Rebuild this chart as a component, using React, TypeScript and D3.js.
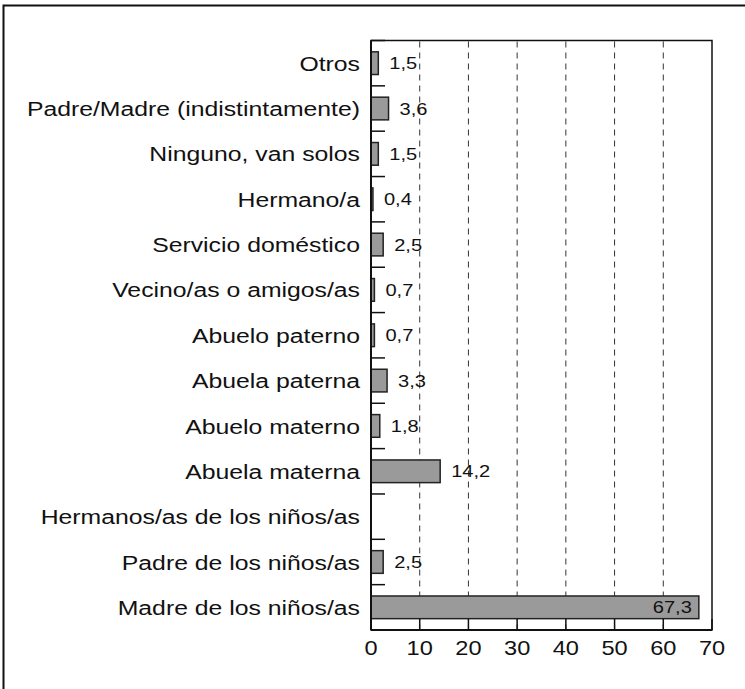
import * as d3 from "d3";

const categories = [
  "Otros",
  "Padre/Madre (indistintamente)",
  "Ninguno, van solos",
  "Hermano/a",
  "Servicio doméstico",
  "Vecino/as o amigos/as",
  "Abuelo paterno",
  "Abuela paterna",
  "Abuelo materno",
  "Abuela materna",
  "Hermanos/as de los niños/as",
  "Padre de los niños/as",
  "Madre de los niños/as",
];
const values: (number | null)[] = [1.5, 3.6, 1.5, 0.4, 2.5, 0.7, 0.7, 3.3, 1.8, 14.2, null, 2.5, 67.3];
const xTicks = [0, 10, 20, 30, 40, 50, 60, 70];

const width = 745,
  height = 689;
const plot = { left: 371, right: 712, top: 40.5, bottom: 630 };
const sx = 1.18; // labels in the source are slightly wide
const font = "'Liberation Sans', Arial, Helvetica, sans-serif";

const fmt = (v: number) => v.toFixed(1).replace(".", ",");

export default function App() {
  const x = d3.scaleLinear().domain([0, 70]).range([plot.left, plot.right]);
  const y = d3
    .scaleBand<string>()
    .domain(categories)
    .range([plot.top, plot.bottom])
    .paddingInner(0.5)
    .paddingOuter(0.25);
  const step = y.step();
  const bw = y.bandwidth();
  const boundaries = d3.range(categories.length + 1).map((i) => plot.top + i * step);

  return (
    <svg
      width={width}
      height={height}
      style={{ position: "absolute", left: 0, top: 0, background: "#fff" }}
      fontFamily={font}
    >
      {/* outer frame, open past the picture edges */}
      <rect x={3.5} y={5.5} width={800} height={800} fill="none" stroke="#111" strokeWidth={2} />

      {/* dashed grid */}
      {xTicks.slice(1, -1).map((t) => (
        <line
          key={"g" + t}
          x1={x(t)}
          x2={x(t)}
          y1={plot.top + 1}
          y2={plot.bottom}
          stroke="#333"
          strokeWidth={1}
          strokeDasharray="6,5"
        />
      ))}

      {/* bars */}
      {categories.map((c, i) => {
        const v = values[i];
        if (v == null) return null;
        return (
          <rect
            key={"b" + c}
            x={x(0)}
            y={y(c)!}
            width={x(v) - x(0)}
            height={bw}
            fill="#9a9a9a"
            stroke="#222"
            strokeWidth={1.5}
          />
        );
      })}

      {/* value labels */}
      {categories.map((c, i) => {
        const v = values[i];
        if (v == null) return null;
        const cy = y(c)! + bw / 2;
        const inside = x(v) > plot.right - 60;
        const tx = inside ? x(v) - 7 : x(v) + 11;
        return (
          <text
            key={"v" + c}
            transform={`translate(${tx},${cy}) scale(${sx},1)`}
            dy="0.36em"
            fontSize={17}
            textAnchor={inside ? "end" : "start"}
            fill="#111"
          >
            {fmt(v)}
          </text>
        );
      })}

      {/* category labels */}
      {categories.map((c) => (
        <text
          key={"c" + c}
          transform={`translate(${plot.left - 11},${y(c)! + bw / 2}) scale(${sx},1)`}
          dy="0.36em"
          fontSize={21}
          textAnchor="end"
          fill="#111"
        >
          {c}
        </text>
      ))}

      {/* y ticks between rows */}
      {boundaries.map((b, i) => (
        <line key={"yt" + i} x1={plot.left} x2={plot.left + 14} y1={b} y2={b} stroke="#111" strokeWidth={1.5} />
      ))}

      {/* x ticks */}
      {xTicks.map((t) => (
        <line key={"xt" + t} x1={x(t)} x2={x(t)} y1={plot.bottom} y2={plot.bottom - 11} stroke="#111" strokeWidth={1.5} />
      ))}
      {xTicks.map((t) => (
        <text
          key={"xl" + t}
          transform={`translate(${x(t)},${plot.bottom + 18}) scale(${sx},1)`}
          dy="0.36em"
          fontSize={20}
          textAnchor="middle"
          fill="#111"
        >
          {t}
        </text>
      ))}

      {/* plot box */}
      <rect
        x={plot.left}
        y={plot.top}
        width={plot.right - plot.left}
        height={plot.bottom - plot.top}
        fill="none"
        stroke="#111"
        strokeWidth={1.5}
      />
      <line x1={plot.left} x2={plot.right} y1={plot.bottom} y2={plot.bottom} stroke="#111" strokeWidth={2} />
      <line x1={plot.left} x2={plot.left} y1={plot.top} y2={plot.bottom} stroke="#111" strokeWidth={2} />
    </svg>
  );
}
